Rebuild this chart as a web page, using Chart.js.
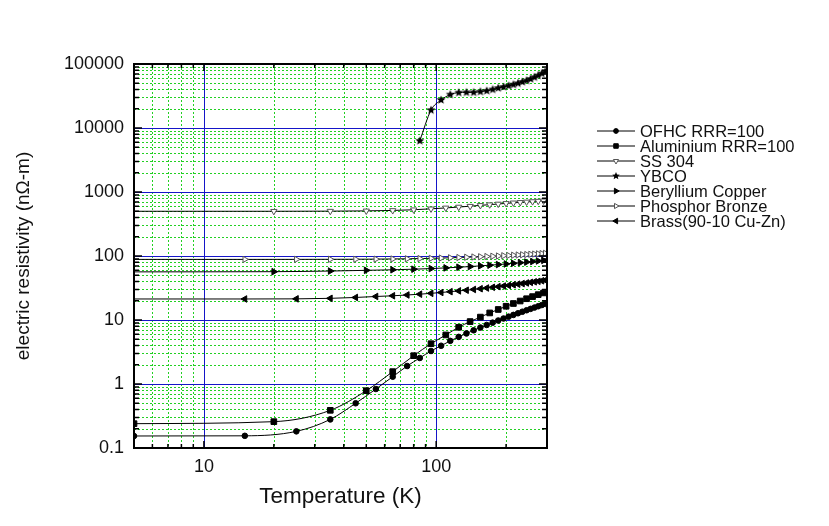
<!DOCTYPE html>
<html>
<head>
<meta charset="utf-8">
<title>Electric resistivity vs temperature</title>
<script src="https://cdn.jsdelivr.net/npm/chart.js@4.4.0/dist/chart.umd.min.js"></script>
<style>
  html, body { margin: 0; padding: 0; background: #fff; }
  #wrap { width: 829px; height: 526px; }
</style>
</head>
<body>
<div id="wrap"><canvas id="rhoChart" width="829" height="526"></canvas></div>
<script>
// Temperatures (K) and resistivities (nOhm-m)
const ofhcT  = [5, 15, 25, 35, 45, 55, 65, 75, 85, 95, 105, 115, 125, 135, 145, 155, 165, 175, 185, 195, 205, 215, 225, 235, 245, 255, 265, 275, 285, 295, 300];
const ofhcR  = [0.154, 0.155, 0.182, 0.28, 0.50, 0.835, 1.30, 1.91, 2.55, 3.28, 3.96, 4.72, 5.45, 6.17, 6.90, 7.63, 8.36, 9.09, 9.82, 10.55, 11.28, 12.01, 12.74, 13.47, 14.20, 14.93, 15.66, 16.39, 17.12, 17.85, 18.2];

const alT    = [5, 20, 35, 50, 65, 80, 95, 110, 125, 140, 155, 170, 185, 200, 215, 230, 245, 260, 275, 290, 300];
const alR    = [0.24, 0.258, 0.388, 0.786, 1.56, 2.77, 4.26, 5.84, 7.7, 9.45, 11.1, 12.9, 14.6, 16.4, 18.1, 19.8, 21.5, 23.2, 24.9, 26.5, 27.3];

const ssT    = [5, 20, 35, 50, 65, 80, 95, 110, 125, 140, 155, 170, 185, 200, 215, 230, 245, 260, 275, 290, 300];
const ssR    = [500, 500, 502, 507, 515, 528, 546, 564, 582, 600, 618, 634, 650, 664, 677, 689, 700, 710, 720, 728, 733];

const ybcoT  = [85, 95, 105, 115, 125, 135, 145, 155, 165, 175, 185, 195, 205, 215, 225, 235, 245, 255, 265, 275, 285, 295, 300];
const ybcoR  = [6300, 19000, 27400, 33300, 35700, 36000, 36000, 37000, 38100, 39900, 42000, 43800, 45700, 47700, 49900, 52500, 55100, 58200, 62000, 66000, 71000, 76000, 78500];

const becuT  = [5, 20, 35, 50, 65, 80, 95, 110, 125, 140, 155, 170, 185, 200, 215, 230, 245, 260, 275, 290, 300];
const becuR  = [56.5, 56.9, 58.2, 59.7, 60.9, 62.2, 63.6, 65.2, 66.8, 68.4, 70.1, 71.8, 73.5, 75.2, 76.9, 78.6, 80.3, 82.0, 83.7, 85.4, 86.5];

const phbrT  = [5, 15, 25, 35, 45, 55, 65, 75, 85, 95, 105, 115, 125, 135, 145, 155, 165, 175, 185, 195, 205, 215, 225, 235, 245, 255, 265, 275, 285, 295, 300];
const phbrR  = [88.5, 88.5, 88.6, 88.8, 89.0, 89.4, 89.9, 90.5, 91.2, 92.0, 92.9, 93.8, 94.7, 95.6, 96.5, 97.4, 98.3, 99.2, 100.1, 101.0, 101.9, 102.8, 103.7, 104.6, 105.5, 106.4, 107.3, 108.2, 109.1, 110.0, 110.4];

const brassT = [5, 15, 25, 35, 45, 55, 65, 75, 85, 95, 105, 115, 125, 135, 145, 155, 165, 175, 185, 195, 205, 215, 225, 235, 245, 255, 265, 275, 285, 295, 300];
const brassR = [21.3, 21.3, 21.4, 21.8, 22.5, 23.3, 23.9, 24.6, 25.3, 26.1, 26.9, 27.7, 28.5, 29.2, 30.0, 30.8, 31.6, 32.4, 33.2, 33.9, 34.7, 35.5, 36.3, 37.1, 37.9, 38.7, 39.5, 40.2, 41.0, 41.8, 42.2];

// axis labels
const xTickLabels = [10, 100];
const yTickLabels = [0.1, 1, 10, 100, 1000, 10000, 100000];

const FONT = '"Liberation Sans", Arial, sans-serif';
const BLUE = '#1515c8';
const GREEN = '#22d022';

function isDecade(v) {
    if (!v) return false;
    const l = Math.log10(v);
    return Math.abs(l - Math.round(l)) < 1e-9;
}

// 1..9 x 10^n between min and max
function logTicks(min, max) {
    const out = [];
    for (let e = Math.floor(Math.log10(min)); e <= Math.ceil(Math.log10(max)); e++) {
        for (let m = 1; m < 10; m++) {
            const v = +(m * Math.pow(10, e)).toPrecision(6);
            if (v >= min - 1e-9 && v <= max + 1e-9) out.push(v);
        }
    }
    return out;
}

function starImage(r) {
    const c = document.createElement('canvas');
    const s = Math.ceil(r * 2 + 2);
    c.width = c.height = s;
    const g = c.getContext('2d');
    g.translate(s / 2, s / 2);
    g.beginPath();
    for (let k = 0; k < 10; k++) {
        const rad = k % 2 ? r * 0.45 : r;
        const a = -Math.PI / 2 + k * Math.PI / 5;
        g.lineTo(rad * Math.cos(a), rad * Math.sin(a));
    }
    g.closePath();
    g.fillStyle = '#000';
    g.fill();
    return c;
}

const starBig = starImage(4.6);
const starSmall = starImage(4);

function pts(ts, rs) {
    return ts.map((t, i) => ({ x: t, y: rs[i] }));
}

// series: label, data, marker style; "bare" = indices drawn without a marker
function series(label, ts, rs, style, bare) {
    return Object.assign({
        label: label,
        data: pts(ts, rs),
        borderColor: '#000',
        borderWidth: 1,
        pointBackgroundColor: '#000',
        pointBorderColor: '#000',
        pointBorderWidth: 1,
        cubicInterpolationMode: 'monotone',
        clip: 1,
        bare: bare
    }, style);
}

const datasets = [
    series('OFHC RRR=100', ofhcT, ofhcR, { pointStyle: 'circle', markR: 2.8, legendR: 2.4 }, [ofhcT.length - 1]),
    series('Aluminium RRR=100', alT, alR, { pointStyle: 'rect', markR: 4, legendR: 3.2 }, [alT.length - 1]),
    series('SS 304', ssT, ssR, { pointStyle: 'triangle', pointRotation: 180, markR: 3.6, legendR: 3,
        pointBackgroundColor: '#fff', pointBorderColor: '#555' }, [0, ssT.length - 1]),
    series('YBCO', ybcoT, ybcoR, { pointStyle: starBig, legendStyle: starSmall, markR: 4.6, legendR: 3 }, [ybcoT.length - 1]),
    series('Beryllium Copper', becuT, becuR, { pointStyle: 'triangle', pointRotation: 90, markR: 3.8, legendR: 3.2 }, [0, becuT.length - 1]),
    series('Phosphor Bronze', phbrT, phbrR, { pointStyle: 'triangle', pointRotation: 90, markR: 3.6, legendR: 3,
        pointBackgroundColor: '#fff', pointBorderColor: '#555' }, [0, phbrT.length - 1]),
    series('Brass(90-10 Cu-Zn)', brassT, brassR, { pointStyle: 'triangle', pointRotation: -90, markR: 3.8, legendR: 3.2 }, [0, brassT.length - 1])
];

datasets.forEach(ds => {
    ds.pointRadius = ctx => (ds.bare.indexOf(ctx.dataIndex) >= 0 ? 0 : ds.markR);
});

// grid: dotted green at 2..9, solid blue at each decade
const logGrid = {
    id: 'logGrid',
    beforeDatasetsDraw(chart) {
        const { ctx, chartArea: a, scales } = chart;
        ctx.save();
        ctx.lineWidth = 1;
        [false, true].forEach(major => {
            ctx.strokeStyle = major ? BLUE : GREEN;
            ctx.setLineDash(major ? [] : [2, 2]);
            ctx.beginPath();
            scales.x.ticks.forEach(t => {
                if (isDecade(t.value) !== major) return;
                const px = Math.round(scales.x.getPixelForValue(t.value)) + 0.5;
                ctx.moveTo(px, a.top);
                ctx.lineTo(px, a.bottom);
            });
            scales.y.ticks.forEach(t => {
                if (isDecade(t.value) !== major) return;
                const py = Math.round(scales.y.getPixelForValue(t.value)) + 0.5;
                ctx.moveTo(a.left, py);
                ctx.lineTo(a.right, py);
            });
            ctx.stroke();
        });
        ctx.restore();
    }
};

// box round the plot, with inward ticks on all four sides
const framePlugin = {
    id: 'frame',
    afterDatasetsDraw(chart) {
        const { ctx, chartArea: a, scales } = chart;
        ctx.save();
        ctx.strokeStyle = '#000';
        ctx.lineWidth = 1.5;
        ctx.beginPath();
        scales.x.ticks.forEach(t => {
            const px = scales.x.getPixelForValue(t.value);
            if (px <= a.left + 1 || px >= a.right - 1) return;
            const len = isDecade(t.value) ? 7 : 4;
            ctx.moveTo(px, a.bottom); ctx.lineTo(px, a.bottom - len);
            ctx.moveTo(px, a.top); ctx.lineTo(px, a.top + len);
        });
        scales.y.ticks.forEach(t => {
            const py = scales.y.getPixelForValue(t.value);
            if (py <= a.top + 1 || py >= a.bottom - 1) return;
            const len = isDecade(t.value) ? 8 : 5;
            ctx.moveTo(a.left, py); ctx.lineTo(a.left + len, py);
            ctx.moveTo(a.right, py); ctx.lineTo(a.right - len, py);
        });
        ctx.stroke();
        ctx.lineWidth = 2;
        ctx.strokeRect(a.left, a.top, a.right - a.left, a.bottom - a.top);
        ctx.restore();
    }
};

// legend to the right of the plot: line with marker, then the name
const sideLegend = {
    id: 'sideLegend',
    afterDraw(chart) {
        const ctx = chart.ctx;
        ctx.save();
        ctx.font = '16.5px ' + FONT;
        ctx.textBaseline = 'middle';
        chart.data.datasets.forEach((ds, i) => {
            const y = 131 + i * 15;
            ctx.strokeStyle = '#000';
            ctx.lineWidth = 1;
            ctx.beginPath();
            ctx.moveTo(597, y);
            ctx.lineTo(635, y);
            ctx.stroke();
            ctx.fillStyle = ds.pointBackgroundColor;
            ctx.strokeStyle = ds.pointBorderColor;
            Chart.helpers.drawPoint(ctx, {
                pointStyle: ds.legendStyle || ds.pointStyle,
                radius: ds.legendR,
                rotation: ds.pointRotation || 0,
                borderWidth: 1
            }, 616, y);
            ctx.fillStyle = '#111';
            ctx.fillText(ds.label, 640, y + 1);
        });
        ctx.restore();
    }
};

new Chart(document.getElementById('rhoChart'), {
    type: 'line',
    data: { datasets: datasets },
    options: {
        responsive: false,
        animation: false,
        events: [],
        layout: { padding: { left: 0, top: 64, right: 282, bottom: 0 } },
        plugins: {
            legend: { display: false },
            tooltip: { enabled: false }
        },
        scales: {
            x: {
                type: 'logarithmic',
                min: 5,
                max: 300,
                afterBuildTicks: s => { s.ticks = logTicks(s.min, s.max).map(v => ({ value: v })); },
                afterFit: s => { s.height = 78; },
                grid: { display: false, drawTicks: false },
                border: { display: false },
                ticks: {
                    autoSkip: false,
                    maxRotation: 0,
                    padding: 8,
                    color: '#111',
                    font: { family: FONT, size: 18 },
                    callback: v => (xTickLabels.indexOf(v) >= 0 ? String(v) : '')
                },
                title: {
                    display: true,
                    text: 'Temperature (K)',
                    color: '#111',
                    font: { family: FONT, size: 22.5 },
                    padding: { top: 0, bottom: 16 }
                }
            },
            y: {
                type: 'logarithmic',
                min: 0.1,
                max: 100000,
                afterBuildTicks: s => { s.ticks = logTicks(s.min, s.max).map(v => ({ value: v })); },
                afterFit: s => { s.width = 134; },
                grid: { display: false, drawTicks: false },
                border: { display: false },
                ticks: {
                    autoSkip: false,
                    padding: 10,
                    color: '#111',
                    font: { family: FONT, size: 18 },
                    callback: v => (yTickLabels.indexOf(v) >= 0 ? String(v) : '')
                },
                title: {
                    display: true,
                    text: 'electric resistivity (nΩ-m)',
                    color: '#111',
                    font: { family: FONT, size: 19 },
                    padding: { top: 12, bottom: 0 }
                }
            }
        }
    },
    plugins: [logGrid, framePlugin, sideLegend]
});
</script>
</body>
</html>
